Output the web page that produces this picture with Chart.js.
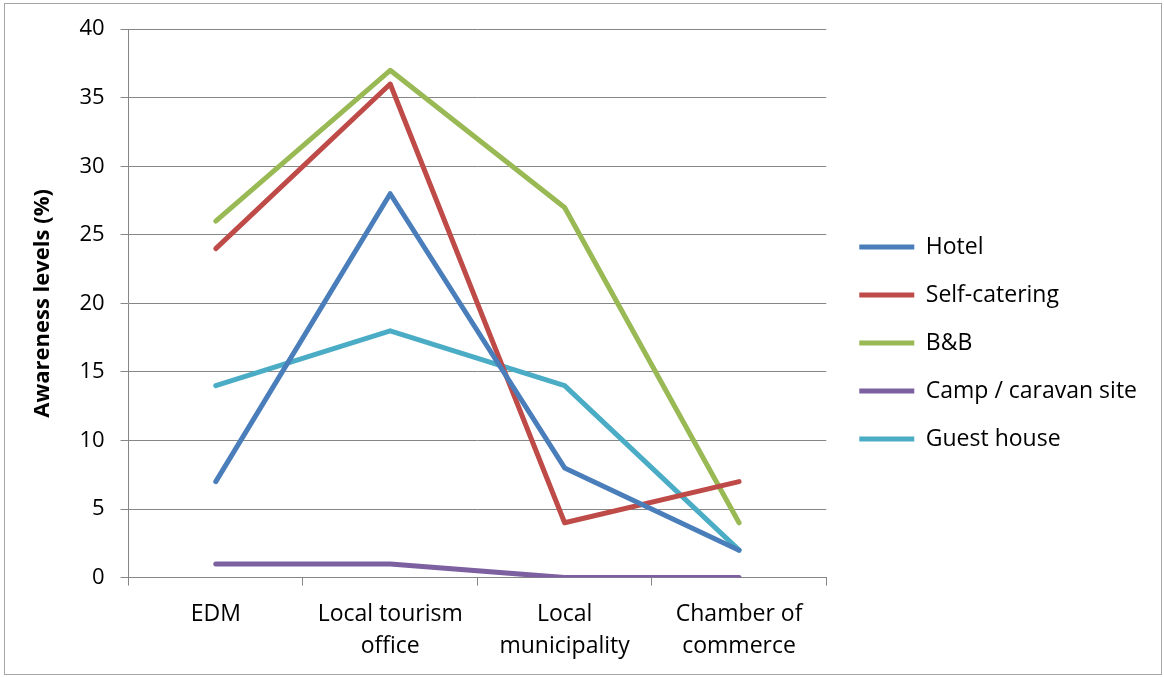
<!DOCTYPE html>
<html>
<head>
<meta charset="utf-8">
<script src="https://cdn.jsdelivr.net/npm/chart.js@4"></script>
<style>
  html, body { margin: 0; padding: 0; background: #fff; }
  #wrap { width: 1164px; height: 677px; }
</style>
</head>
<body>
<div id="wrap"><canvas id="awareness" width="1164" height="677"></canvas></div>
<script>
// categories and values per accommodation type
const sources = ['EDM', ['Local tourism', 'office'], ['Local', 'municipality'], ['Chamber of', 'commerce']];
const hotel = [7, 28, 8, 2];
const selfCatering = [24, 36, 4, 7];
const bnb = [26, 37, 27, 4];
const camp = [1, 1, 0, 0];
const guestHouse = [14, 18, 14, 2];

const axisGrey = '#868686';
const fontFamily = '"Open Sans", Lato, sans-serif';

function serie(label, data, color) {
  return {
    label: label,
    data: data,
    borderColor: color,
    backgroundColor: color,
    borderWidth: 5,
    borderCapStyle: 'round',
    borderJoinStyle: 'round',
    pointRadius: 0,
    pointHoverRadius: 0,
    tension: 0,
    fill: false
  };
}

// outer frame round the whole chart
const frame = {
  id: 'frame',
  beforeDraw(chart) {
    const ctx = chart.ctx;
    ctx.save();
    ctx.fillStyle = '#fff';
    ctx.fillRect(0, 0, chart.width, chart.height);
    ctx.strokeStyle = '#a6a6a6';
    ctx.lineWidth = 1;
    ctx.strokeRect(4.5, 3.5, chart.width - 7, chart.height - 6);
    ctx.restore();
  }
};

// nudge the legend block a little right and up
const legendNudge = {
  id: 'legendNudge',
  afterLayout(chart) {
    const lg = chart.legend;
    lg.left += 8; lg.right += 8;
    lg.top -= 8; lg.bottom -= 8;
  }
};

let ctx = document.getElementById('awareness');
const config = {
  type: 'line',
  data: {
    labels: sources,
    datasets: [
      serie('Hotel', hotel, '#4A7EBB'),
      serie('Self-catering', selfCatering, '#BE4B48'),
      serie('B&B', bnb, '#98B954'),
      serie('Camp / caravan site', camp, '#7D60A0'),
      serie('Guest house', guestHouse, '#4BACC6')
    ]
  },
  options: {
    responsive: false,
    animation: false,
    layout: { padding: { left: 30, top: 26, right: 25, bottom: 1 } },
    plugins: {
      tooltip: { enabled: false },
      legend: {
        position: 'right',
        maxWidth: 400,
        labels: {
          color: '#000',
          font: { family: fontFamily, size: 23 },
          boxWidth: 55,
          boxHeight: 5,
          padding: 25,
          useBorderRadius: true,
          borderRadius: 2.5,
          generateLabels(chart) {
            return chart.data.datasets.map((ds, i) => ({
              text: ds.label,
              fillStyle: ds.borderColor,
              strokeStyle: ds.borderColor,
              lineWidth: 0,
              hidden: false,
              datasetIndex: i
            }));
          }
        }
      }
    },
    scales: {
      x: {
        offset: true,
        grid: {
          offset: true,
          drawOnChartArea: false,
          drawTicks: true,
          tickLength: 8,
          color: axisGrey
        },
        border: { color: axisGrey, width: 1 },
        ticks: {
          color: '#000',
          font: { family: fontFamily, size: 23, lineHeight: 1.4 },
          padding: 13,
          maxRotation: 0,
          autoSkip: false
        }
      },
      y: {
        min: 0,
        max: 40,
        ticks: {
          stepSize: 5,
          color: '#000',
          font: { family: fontFamily, size: 22 },
          padding: 16
        },
        grid: { color: axisGrey, tickLength: 8 },
        border: { color: axisGrey, width: 1 },
        title: {
          display: true,
          text: 'Awareness levels (%)',
          color: '#000',
          font: { family: fontFamily, size: 22, weight: 'bold' },
          padding: { top: 0, bottom: 7 }
        }
      }
    }
  },
  plugins: [frame, legendNudge]
};

let myChart = new Chart(ctx, config);
</script>
</body>
</html>
